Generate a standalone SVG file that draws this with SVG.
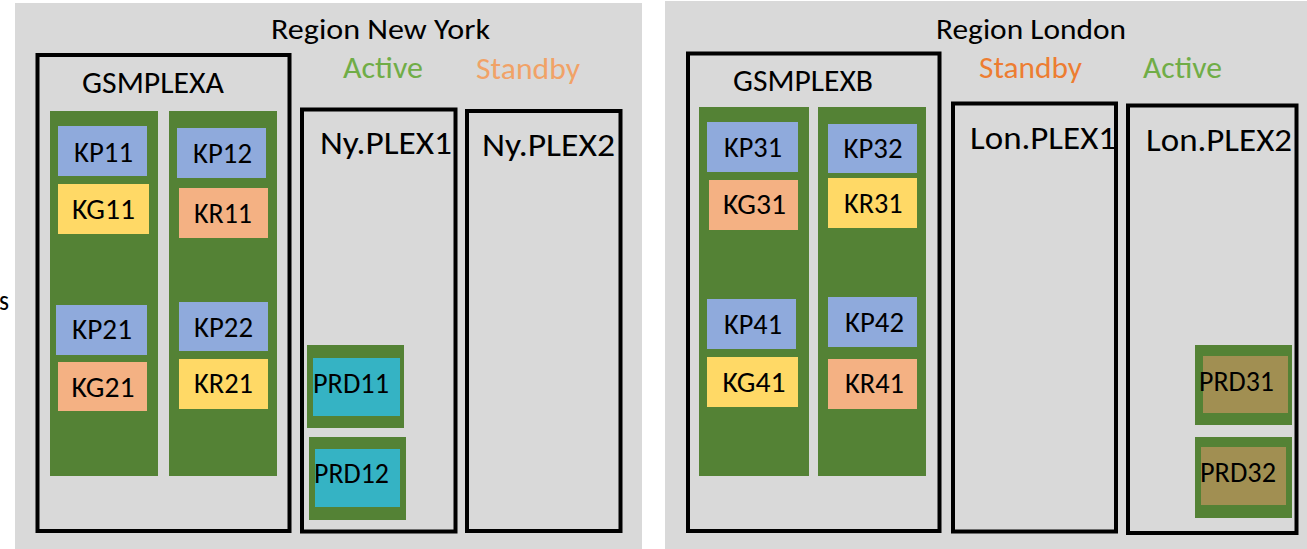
<svg xmlns="http://www.w3.org/2000/svg" width="1307" height="549" viewBox="0 0 1307 549">
  <style>
    text { font-family: Carlito, "Liberation Sans", Arial, sans-serif; fill: #000; }
    .panel { fill: #d9d9d9; }
    .frame { fill: none; stroke: #000; stroke-width: 4; }
    .col { fill: #548235; }
    .kp { fill: #8faadc; }
    .yel { fill: #ffd966; }
    .org { fill: #f4b183; }
    .teal { fill: #35b3c4; }
    .olive { fill: #a18f52; }
    .lbl { font-size: 29px; }
    .title { font-size: 29px; }
    .sys { font-size: 31px; }
    .plex { font-size: 33px; }
    .state { font-size: 31px; }
    .active { fill: #70ad47; }
    .standby-lt { fill: #f1a267; }
    .standby { fill: #ed7d31; }
  </style>

  <rect width="1307" height="549" fill="#ffffff"/>
  <text x="-1" y="310" class="lbl" textLength="10" lengthAdjust="spacingAndGlyphs">s</text>

  <!-- Region New York -->
  <g id="region-newyork">
    <rect class="panel" x="15" y="3" width="627" height="546"/>
    <text class="title" x="271" y="39" textLength="219" lengthAdjust="spacingAndGlyphs">Region New York</text>
    <text class="state active" x="343" y="78" textLength="80" lengthAdjust="spacingAndGlyphs">Active</text>
    <text class="state standby-lt" x="476" y="79" textLength="104" lengthAdjust="spacingAndGlyphs">Standby</text>
  </g>

  <g id="gsmplexa">
    <rect class="frame" x="37.5" y="55" width="252" height="476"/>
    <text class="sys" x="82" y="93" textLength="142" lengthAdjust="spacingAndGlyphs">GSMPLEXA</text>
    <rect class="col" x="50" y="111" width="108" height="365"/>
    <rect class="col" x="169" y="111" width="108" height="365"/>
  </g>
  <g id="kp11"><rect class="kp" x="58" y="126" width="89" height="50"/><text class="lbl" x="74" y="162" textLength="59" lengthAdjust="spacingAndGlyphs">KP11</text></g>
  <g id="kg11"><rect class="yel" x="58" y="184" width="91" height="50"/><text class="lbl" x="72" y="219" textLength="63" lengthAdjust="spacingAndGlyphs">KG11</text></g>
  <g id="kp12"><rect class="kp" x="177" y="128" width="89" height="50"/><text class="lbl" x="193" y="163" textLength="59" lengthAdjust="spacingAndGlyphs">KP12</text></g>
  <g id="kr11"><rect class="org" x="179" y="188" width="89" height="50"/><text class="lbl" x="194" y="223" textLength="58" lengthAdjust="spacingAndGlyphs">KR11</text></g>
  <g id="kp21"><rect class="kp" x="56" y="305" width="91" height="50"/><text class="lbl" x="72" y="339" textLength="60" lengthAdjust="spacingAndGlyphs">KP21</text></g>
  <g id="kg21"><rect class="org" x="58" y="362" width="89" height="49"/><text class="lbl" x="71.5" y="397" textLength="63" lengthAdjust="spacingAndGlyphs">KG21</text></g>
  <g id="kp22"><rect class="kp" x="179" y="302" width="89" height="49"/><text class="lbl" x="194" y="337" textLength="59" lengthAdjust="spacingAndGlyphs">KP22</text></g>
  <g id="kr21"><rect class="yel" x="179" y="359" width="89" height="50"/><text class="lbl" x="194" y="393" textLength="59" lengthAdjust="spacingAndGlyphs">KR21</text></g>

  <g id="ny-plex1">
    <rect class="frame" x="302" y="109.5" width="153.5" height="422"/>
    <text class="plex" x="320" y="154" textLength="132" lengthAdjust="spacingAndGlyphs">Ny.PLEX1</text>
  </g>
  <g id="prd11">
    <rect class="col" x="307" y="345" width="97" height="83"/>
    <rect class="teal" x="313" y="358" width="87" height="58"/>
    <text class="lbl" x="313" y="393" textLength="76" lengthAdjust="spacingAndGlyphs">PRD11</text>
  </g>
  <g id="prd12">
    <rect class="col" x="309" y="437" width="97" height="83"/>
    <rect class="teal" x="315" y="449" width="85" height="58"/>
    <text class="lbl" x="314" y="483" textLength="75" lengthAdjust="spacingAndGlyphs">PRD12</text>
  </g>

  <g id="ny-plex2">
    <rect class="frame" x="467" y="111" width="153.5" height="420"/>
    <text class="plex" x="482" y="156" textLength="133" lengthAdjust="spacingAndGlyphs">Ny.PLEX2</text>
  </g>

  <!-- Region London -->
  <g id="region-london">
    <rect class="panel" x="665" y="1" width="642" height="548"/>
    <text class="title" x="936" y="39" textLength="190" lengthAdjust="spacingAndGlyphs">Region London</text>
    <text class="state standby" x="979" y="78" textLength="103" lengthAdjust="spacingAndGlyphs">Standby</text>
    <text class="state active" x="1143" y="78" textLength="79" lengthAdjust="spacingAndGlyphs">Active</text>
  </g>

  <g id="gsmplexb">
    <rect class="frame" x="688" y="53.5" width="251.5" height="477.5"/>
    <text class="sys" x="733" y="91" textLength="140" lengthAdjust="spacingAndGlyphs">GSMPLEXB</text>
    <rect class="col" x="699" y="107" width="110" height="369"/>
    <rect class="col" x="818" y="107" width="108" height="369"/>
  </g>
  <g id="kp31"><rect class="kp" x="707" y="122" width="91" height="50"/><text class="lbl" x="724" y="157" textLength="58" lengthAdjust="spacingAndGlyphs">KP31</text></g>
  <g id="kg31"><rect class="org" x="709" y="180" width="89" height="50"/><text class="lbl" x="723" y="214" textLength="63" lengthAdjust="spacingAndGlyphs">KG31</text></g>
  <g id="kp32"><rect class="kp" x="828" y="124" width="89" height="49"/><text class="lbl" x="843.5" y="158" textLength="59" lengthAdjust="spacingAndGlyphs">KP32</text></g>
  <g id="kr31"><rect class="yel" x="828" y="178" width="89" height="50"/><text class="lbl" x="844" y="213" textLength="58.5" lengthAdjust="spacingAndGlyphs">KR31</text></g>
  <g id="kp41"><rect class="kp" x="707" y="299" width="89" height="50"/><text class="lbl" x="724" y="334" textLength="58" lengthAdjust="spacingAndGlyphs">KP41</text></g>
  <g id="kg41"><rect class="yel" x="707" y="357" width="91" height="50"/><text class="lbl" x="722.5" y="392" textLength="63" lengthAdjust="spacingAndGlyphs">KG41</text></g>
  <g id="kp42"><rect class="kp" x="828" y="297" width="89" height="50"/><text class="lbl" x="845" y="332" textLength="59" lengthAdjust="spacingAndGlyphs">KP42</text></g>
  <g id="kr41"><rect class="org" x="828" y="359" width="89" height="50"/><text class="lbl" x="845" y="393" textLength="59" lengthAdjust="spacingAndGlyphs">KR41</text></g>

  <g id="lon-plex1">
    <rect class="frame" x="953" y="103.5" width="163" height="428"/>
    <text class="plex" x="970" y="149" textLength="146" lengthAdjust="spacingAndGlyphs">Lon.PLEX1</text>
  </g>

  <g id="lon-plex2">
    <rect class="frame" x="1128" y="105.5" width="168.5" height="427.5"/>
    <text class="plex" x="1146" y="151" textLength="146" lengthAdjust="spacingAndGlyphs">Lon.PLEX2</text>
  </g>
  <g id="prd31">
    <rect class="col" x="1195" y="345" width="97" height="80"/>
    <rect class="olive" x="1203" y="356" width="85" height="57"/>
    <text class="lbl" x="1199" y="391" textLength="75" lengthAdjust="spacingAndGlyphs">PRD31</text>
  </g>
  <g id="prd32">
    <rect class="col" x="1195" y="437" width="97" height="81"/>
    <rect class="olive" x="1201" y="447" width="85" height="58"/>
    <text class="lbl" x="1200" y="482" textLength="76" lengthAdjust="spacingAndGlyphs">PRD32</text>
  </g>
</svg>
